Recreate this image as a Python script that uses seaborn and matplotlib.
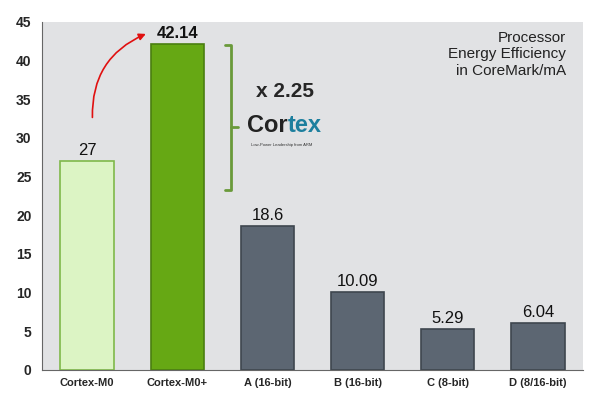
import numpy as np
import matplotlib.pyplot as plt
import seaborn as sns
from matplotlib.patches import FancyArrowPatch

categories = ['Cortex-M0', 'Cortex-M0+', 'A (16-bit)', 'B (16-bit)', 'C (8-bit)', 'D (8/16-bit)']
values = [27, 42.14, 18.6, 10.09, 5.29, 6.04]
labels = ['27', '42.14', '18.6', '10.09', '5.29', '6.04']
colors = ['#dcf4c4', '#66a814', '#5c6672', '#5c6672', '#5c6672', '#5c6672']
edges = ['#7fb84a', '#4a7f10', '#3e464f', '#3e464f', '#3e464f', '#3e464f']

sns.set_style('white')
plt.rcParams['font.family'] = ['Liberation Sans', 'DejaVu Sans']

fig = plt.figure(figsize=(5.94, 3.99), dpi=100)
ax = fig.add_axes([0.0707, 0.0727, 0.9108, 0.8722])
ax.set_facecolor('#e1e2e4')

sns.barplot(x=categories, y=values, hue=categories, palette=colors, legend=False,
            width=0.59, ax=ax, saturation=1)
for bar, ec in zip(ax.patches, edges):
    bar.set_edgecolor(ec)
    bar.set_linewidth(1.2)

for i, (v, lab) in enumerate(zip(values, labels)):
    ax.text(i, v + 0.4, lab, ha='center', va='bottom', fontsize=12,
            fontweight='bold' if i == 1 else 'normal', color='#111111')

ax.set_ylim(0, 45)
ax.set_xlim(-0.5, 5.5)
ax.set_yticks(range(0, 46, 5))
ax.set_xticks(range(6))
ax.set_xticks(np.arange(-0.5, 6, 1), minor=True)
ax.tick_params(axis='x', which='major', length=0, labelsize=8, pad=6)
ax.tick_params(axis='x', which='minor', length=4, color='#555555', width=0.8)
ax.tick_params(axis='y', length=4, color='#555555', width=0.8, labelsize=10)
for t in ax.get_xticklabels() + ax.get_yticklabels():
    t.set_fontweight('bold')
for s in ['top', 'right']:
    ax.spines[s].set_visible(False)
for s in ['left', 'bottom']:
    ax.spines[s].set_color('#666666')
    ax.spines[s].set_linewidth(0.8)
ax.set_xlabel('')
ax.set_ylabel('')

# curved red arrow from M0 to M0+
arrow = FancyArrowPatch((0.06, 32.3), (0.68, 43.6), connectionstyle='arc3,rad=-0.35',
                        arrowstyle='-|>', mutation_scale=10, color='#e01010', lw=1.2)
ax.add_patch(arrow)

# green bracket
bx = 1.6
bc = '#6a9a3a'
ax.plot([bx - 0.07, bx, bx, bx - 0.07], [42.0, 42.0, 23.3, 23.3], color=bc, lw=2)
ax.plot([bx, bx + 0.07], [31.4, 31.4], color=bc, lw=2)

ax.text(2.2, 36.0, 'x 2.25', ha='center', va='center', fontsize=15, fontweight='bold')
ax.text(2.22, 31.6, 'Cor', ha='right', va='center', fontsize=17, fontweight='bold', color='#222222')
ax.text(2.22, 31.6, 'tex', ha='left', va='center', fontsize=17, fontweight='bold', color='#1d7f9e')
ax.text(1.82, 29.1, 'Low-Power Leadership from ARM', ha='left', va='center', fontsize=3, color='#333333')

ax.text(0.968, 0.975, 'Processor\nEnergy Efficiency\nin CoreMark/mA', transform=ax.transAxes,
        ha='right', va='top', multialignment='right', fontsize=11, linespacing=1.25, color='#222222')

fig.savefig('out.png', dpi=100)
